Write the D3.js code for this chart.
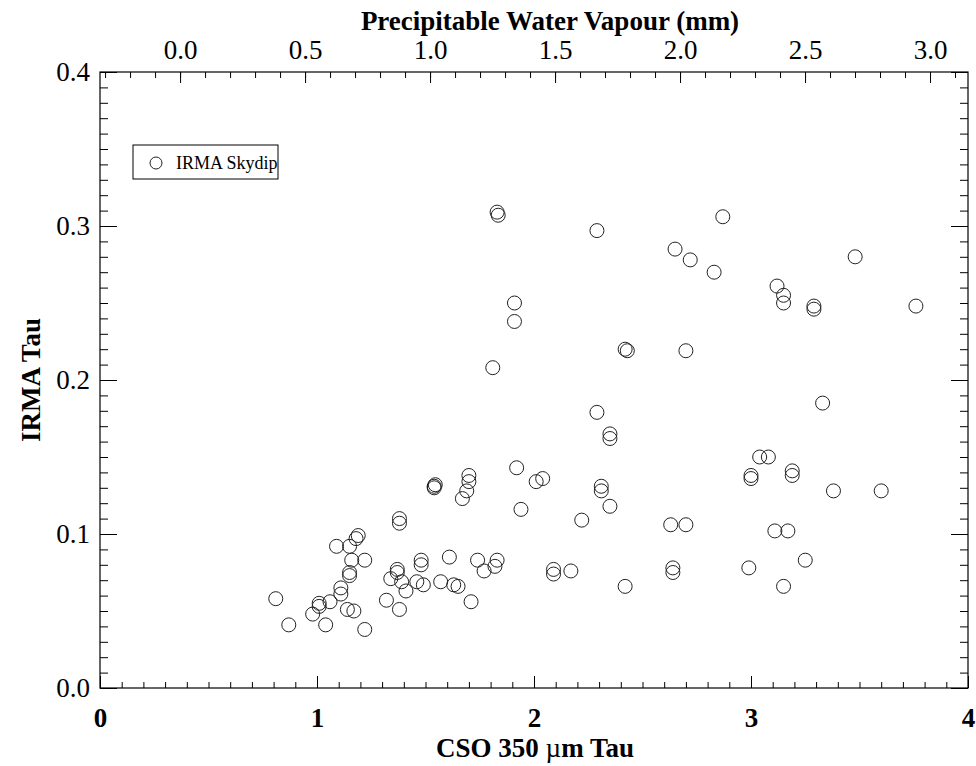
<!DOCTYPE html>
<html lang="en">
<head>
    <meta charset="UTF-8">
    <title>IRMA Tau vs CSO Tau</title>
    <script type="text/javascript" src="https://cdn.jsdelivr.net/npm/d3@7"></script>
    <style type="text/css">
        body { margin: 0; background: #fff; }
        svg { font-family: "Liberation Serif", "DejaVu Serif", serif; }
    </style>
</head>
<body>
    <script type="text/javascript">
        //Data: CSO 350um tau (x) and IRMA skydip tau (y)
        var csoTau = [1.91, 1.91, 1.81, 1.92, 2.01, 2.04, 1.94, 1.70, 1.70, 1.69,
            1.67, 1.54, 1.545, 1.54, 1.38, 1.38, 1.19, 1.18, 1.09, 1.15,
            1.16, 1.22, 1.15, 1.15, 1.11, 1.11, 1.06, 1.01, 1.01, 0.98,
            0.81, 0.87, 1.04, 1.14, 1.17, 1.22, 1.37, 1.37, 1.34, 1.39,
            1.41, 1.46, 1.49, 1.32, 1.38, 1.48, 1.48, 1.61, 1.57, 1.63,
            1.65, 1.71, 1.74, 1.83, 1.82, 1.77, 2.09, 2.09,
            2.29, 2.87, 2.65, 2.72, 2.83, 3.48, 3.12, 3.15, 3.15, 3.29,
            3.29, 3.76, 2.42, 2.43, 2.70, 3.33, 2.29, 2.35, 2.35, 2.31,
            2.31, 2.35, 2.22, 2.63, 2.70, 3.04, 3.08, 3.00, 3.00, 3.19,
            3.19, 3.38, 3.60, 3.11, 3.17, 3.25, 2.99, 3.15, 2.17, 2.42,
            2.64, 2.64, 1.83, 1.835];
        var irmaTau = [0.250, 0.238, 0.208, 0.143, 0.134, 0.136, 0.116, 0.138, 0.134, 0.128,
            0.123, 0.131, 0.132, 0.130, 0.110, 0.107, 0.099, 0.097, 0.092, 0.092,
            0.083, 0.083, 0.075, 0.073, 0.065, 0.061, 0.056, 0.055, 0.053, 0.048,
            0.058, 0.041, 0.041, 0.051, 0.050, 0.038, 0.075, 0.077, 0.071, 0.069,
            0.063, 0.069, 0.067, 0.057, 0.051, 0.083, 0.080, 0.085, 0.069, 0.067,
            0.066, 0.056, 0.083, 0.083, 0.079, 0.076, 0.077, 0.074,
            0.297, 0.306, 0.285, 0.278, 0.270, 0.280, 0.261, 0.255, 0.250, 0.248,
            0.246, 0.248, 0.220, 0.219, 0.219, 0.185, 0.179, 0.165, 0.162, 0.131,
            0.128, 0.118, 0.109, 0.106, 0.106, 0.150, 0.150, 0.136, 0.138, 0.141,
            0.138, 0.128, 0.128, 0.102, 0.102, 0.083, 0.078, 0.066, 0.076, 0.066,
            0.078, 0.075, 0.309, 0.307];

        //Tick values
        var xTicks = [0, 1, 2, 3, 4];
        var yTicks = [0.0, 0.1, 0.2, 0.3, 0.4];
        var pwvTicks = [0.0, 0.5, 1.0, 1.5, 2.0, 2.5, 3.0];

        //CSO tau = pwvOffset + pwvSlope * PWV (top axis)
        var pwvOffset = 0.369;
        var pwvSlope = 1.152;

        //Width and height, plot box
        var w = 976;
        var h = 766;
        var pLeft = 100, pRight = 968, pTop = 72, pBottom = 688;

        var xScale = d3.scaleLinear().domain([0, 4]).range([pLeft, pRight]);
        var yScale = d3.scaleLinear().domain([0, 0.4]).range([pBottom, pTop]);
        var pwvScale = d3.scaleLinear()
            .domain([(0 - pwvOffset) / pwvSlope, (4 - pwvOffset) / pwvSlope])
            .range([pLeft, pRight]);

        //Create SVG element
        var svg = d3.select("body")
            .append("svg")
            .attr("width", w)
            .attr("height", h);

        //minor tick values
        var xMinor = d3.range(0, 41).map(function(d) { return d / 10; });
        var yMinor = d3.range(0, 41).map(function(d) { return d / 100; });
        var pwvMinor = d3.range(-3, 32).map(function(d) { return d / 10; });

        function styleAxis(g) {
            g.select(".domain").remove();
            g.selectAll("line").attr("stroke", "#000").attr("stroke-width", 1);
            g.selectAll("text").attr("fill", "#000").attr("font-family", "Liberation Serif").attr("font-size", "27px");
        }

        //bottom axis
        svg.append("g")
            .attr("transform", "translate(0," + pBottom + ")")
            .call(d3.axisBottom(xScale).tickValues(xMinor).tickSize(-6).tickSizeOuter(0).tickFormat(""))
            .call(styleAxis);
        svg.append("g")
            .attr("transform", "translate(0," + pBottom + ")")
            .call(d3.axisBottom(xScale).tickValues(xTicks).tickSize(-12).tickSizeOuter(0).tickPadding(20).tickFormat(d3.format("d")))
            .call(styleAxis)
            .selectAll("text").attr("font-weight", "bold");

        //top axis (PWV)
        svg.append("g")
            .attr("transform", "translate(0," + pTop + ")")
            .call(d3.axisTop(pwvScale).tickValues(pwvMinor).tickSize(-6).tickSizeOuter(0).tickFormat(""))
            .call(styleAxis);
        svg.append("g")
            .attr("transform", "translate(0," + pTop + ")")
            .call(d3.axisTop(pwvScale).tickValues(pwvTicks).tickSize(-11).tickSizeOuter(0).tickPadding(13).tickFormat(d3.format(".1f")))
            .call(styleAxis);

        //left axis
        svg.append("g")
            .attr("transform", "translate(" + pLeft + ",0)")
            .call(d3.axisLeft(yScale).tickValues(yMinor).tickSize(-8).tickSizeOuter(0).tickFormat(""))
            .call(styleAxis);
        svg.append("g")
            .attr("transform", "translate(" + pLeft + ",0)")
            .call(d3.axisLeft(yScale).tickValues(yTicks).tickSize(-17).tickSizeOuter(0).tickPadding(10).tickFormat(d3.format(".1f")))
            .call(styleAxis);

        //right axis, ticks only
        svg.append("g")
            .attr("transform", "translate(" + pRight + ",0)")
            .call(d3.axisRight(yScale).tickValues(yMinor).tickSize(-8).tickSizeOuter(0).tickFormat(""))
            .call(styleAxis);
        svg.append("g")
            .attr("transform", "translate(" + pRight + ",0)")
            .call(d3.axisRight(yScale).tickValues(yTicks).tickSize(-17).tickSizeOuter(0).tickFormat(""))
            .call(styleAxis);

        //frame
        svg.append("rect")
            .attr("x", pLeft)
            .attr("y", pTop)
            .attr("width", pRight - pLeft)
            .attr("height", pBottom - pTop)
            .attr("fill", "none")
            .attr("stroke", "#000")
            .attr("stroke-width", 1.2);

        //points
        var points = csoTau.map(function(d, i) { return [d, irmaTau[i]]; });
        svg.append("g")
            .selectAll("circle")
            .data(points)
            .enter()
            .append("circle")
            .attr("cx", function(d) { return xScale(d[0]); })
            .attr("cy", function(d) { return yScale(d[1]); })
            .attr("r", 7)
            .attr("fill", "none")
            .attr("stroke", "#222")
            .attr("stroke-width", 1);

        //legend
        var legend = svg.append("g");
        legend.append("rect")
            .attr("x", 133)
            .attr("y", 145)
            .attr("width", 145)
            .attr("height", 34)
            .attr("fill", "none")
            .attr("stroke", "#000")
            .attr("stroke-width", 1);
        legend.append("circle")
            .attr("cx", 156)
            .attr("cy", 163)
            .attr("r", 6)
            .attr("fill", "none")
            .attr("stroke", "#222");
        legend.append("text")
            .attr("x", 176)
            .attr("y", 169)
            .attr("font-size", "18px")
            .text("IRMA Skydip");

        //axis titles
        var xTitle = svg.append("text")
            .attr("x", (pLeft + pRight) / 2 + 1)
            .attr("y", 757)
            .attr("text-anchor", "middle")
            .attr("font-size", "27px")
            .attr("font-weight", "bold");
        xTitle.append("tspan").text("CSO 350 ");
        xTitle.append("tspan").attr("font-weight", "normal").text("\u00b5");
        xTitle.append("tspan").text("m Tau");

        svg.append("text")
            .attr("x", 550)
            .attr("y", 30)
            .attr("text-anchor", "middle")
            .attr("font-size", "27px")
            .attr("font-weight", "bold")
            .text("Precipitable Water Vapour (mm)");

        svg.append("text")
            .attr("transform", "translate(40," + (pTop + pBottom) / 2 + ") rotate(-90)")
            .attr("text-anchor", "middle")
            .attr("font-size", "27px")
            .attr("font-weight", "bold")
            .text("IRMA Tau");
    </script>
</body>
</html>
